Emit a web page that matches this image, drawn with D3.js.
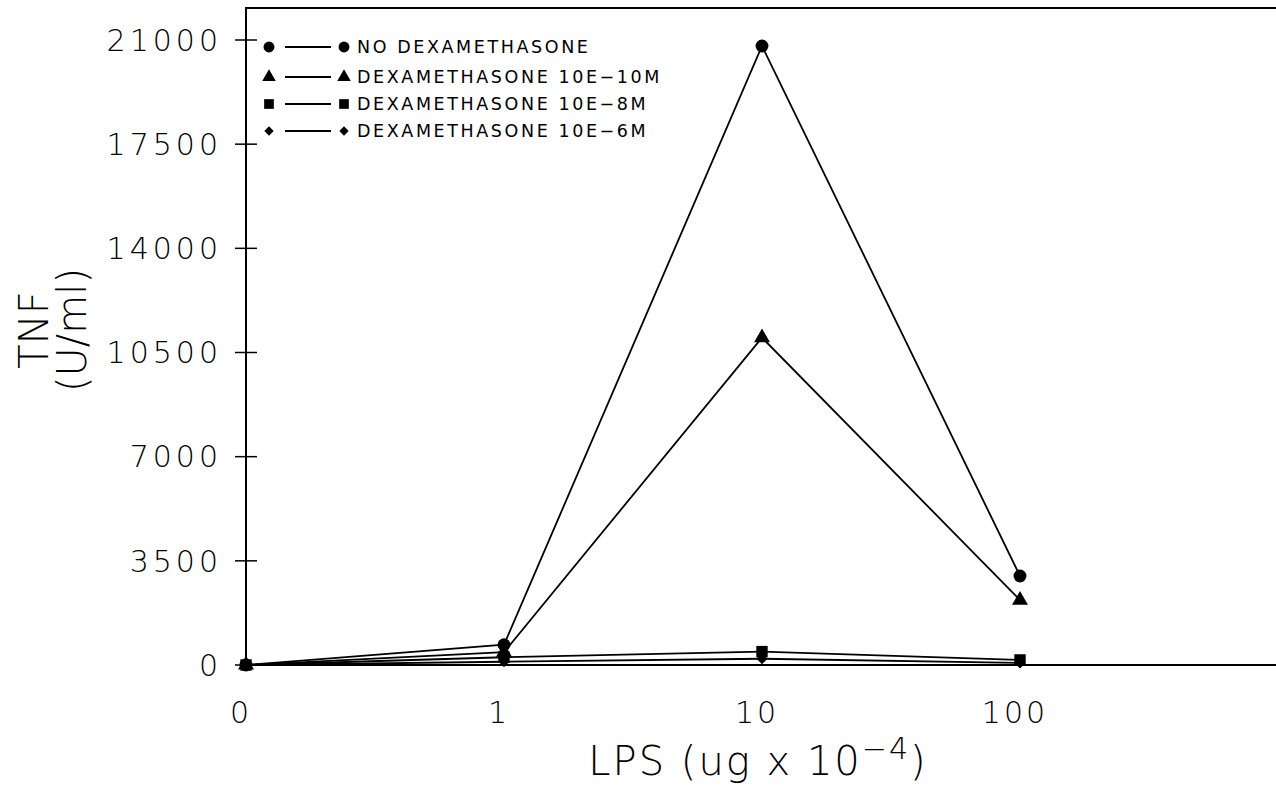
<!DOCTYPE html>
<html>
<head>
<meta charset="utf-8">
<script src="https://cdn.jsdelivr.net/npm/d3@7"></script>
<style>
  body { margin: 0; background: #fff; }
  svg { display: block; }
</style>
</head>
<body>
<script>
const width = 1276;
const height = 791;

// doses on the x axis (last slot is empty, axis runs on to it)
const doses = ["0", "1", "10", "100", ""];
const yTicks = [0, 3500, 7000, 10500, 14000, 17500, 21000];

const seriesNames = [
  "NO DEXAMETHASONE",
  "DEXAMETHASONE 10E\u221210M",
  "DEXAMETHASONE 10E\u22128M",
  "DEXAMETHASONE 10E\u22126M"
];
const symbols = ["circle", "triangle", "square", "diamond"];
const noDex = [0, 680, 20800, 2990];
const dex10 = [0, 430, 11000, 2180];
const dex8 = [0, 260, 450, 170];
const dex6 = [0, 110, 210, 70];
const allSeries = [noDex, dex10, dex8, dex6];

const margin = { left: 246, top: 8, bottom: 665 };

const x = d3.scalePoint().domain(doses).range([246, 1278]);
const y = d3.scaleLinear().domain([0, 21000]).range([665, 40]);

const svg = d3.select("body").append("svg")
  .attr("width", width)
  .attr("height", height)
  .style("font-family", "'DejaVu Sans', sans-serif");

// frame: top line, left axis, bottom axis
svg.append("path")
  .attr("d", `M${width},${margin.top}H${margin.left}V${margin.bottom}H${width}`)
  .attr("fill", "none")
  .attr("stroke", "#000")
  .attr("stroke-width", 2);

// y ticks cross the axis
const yAxis = svg.append("g");
yAxis.selectAll("line").data(yTicks).enter().append("line")
  .attr("x1", 235).attr("x2", 257)
  .attr("y1", d => y(d)).attr("y2", d => y(d))
  .attr("stroke", "#000").attr("stroke-width", 1.5);
yAxis.selectAll("text").data(yTicks).enter().append("text")
  .attr("x", 222)
  .attr("y", d => y(d))
  .attr("dy", "0.36em")
  .attr("text-anchor", "end")
  .style("font-size", "30px")
  .style("font-weight", 200)
  .style("letter-spacing", "4px")
  .text(d => d);

// x tick labels
svg.append("g").selectAll("text").data(doses.filter(d => d !== "")).enter().append("text")
  .attr("x", d => x(d) - 5)
  .attr("y", 712)
  .attr("dy", "0.36em")
  .attr("text-anchor", "middle")
  .style("font-size", "30px")
  .style("font-weight", 200)
  .style("letter-spacing", "3px")
  .text(d => d);

// axis titles
const xTitle = svg.append("text")
  .attr("x", 758).attr("y", 775)
  .attr("text-anchor", "middle")
  .style("font-size", "40px")
  .style("font-weight", 200)
  .style("letter-spacing", "2px");
xTitle.append("tspan").text("LPS (ug x 10");
xTitle.append("tspan").attr("dy", -16).style("font-size", "30px").text("\u22124");
xTitle.append("tspan").attr("dy", 16).text(")");

svg.append("text")
  .attr("transform", "translate(48,330) rotate(-90)")
  .attr("text-anchor", "middle")
  .style("font-size", "40px")
  .style("font-weight", 200)
  .text("TNF");
svg.append("text")
  .attr("transform", "translate(86,330) rotate(-90)")
  .attr("text-anchor", "middle")
  .style("font-size", "40px")
  .style("font-weight", 200)
  .text("(U/ml)");

function symbolPath(kind) {
  const t = {
    circle: d3.symbolCircle,
    triangle: d3.symbolTriangle,
    square: d3.symbolSquare,
    diamond: d3.symbolSquare
  }[kind];
  const size = { circle: 130, triangle: 110, square: 130, diamond: 60 }[kind];
  return d3.symbol().type(t).size(size)();
}
const rot = kind => (kind === "diamond" ? " rotate(45)" : "");

const line = d3.line()
  .x((d, i) => x(doses[i]))
  .y(d => y(d));

// lines, drawn bottom series first
allSeries.slice().reverse().forEach(vals => {
  svg.append("path")
    .datum(vals)
    .attr("d", line)
    .attr("fill", "none")
    .attr("stroke", "#000")
    .attr("stroke-width", 1.8);
});

allSeries.forEach((vals, s) => {
  svg.append("g").selectAll("path").data(vals).enter().append("path")
    .attr("d", symbolPath(symbols[s]))
    .attr("transform", (d, i) => `translate(${x(doses[i])},${y(d)})${rot(symbols[s])}`)
    .attr("fill", "#000");
});

// legend
const legend = svg.append("g");
const rowY = [47, 77, 104, 131];
seriesNames.forEach((name, i) => {
  const g = legend.append("g").attr("transform", `translate(0,${rowY[i]})`);
  g.append("path").attr("d", symbolPath(symbols[i])).attr("transform", `translate(269,0) scale(0.85)${rot(symbols[i])}`);
  g.append("line").attr("x1", 285).attr("x2", 331).attr("stroke", "#000").attr("stroke-width", 1.8);
  g.append("path").attr("d", symbolPath(symbols[i])).attr("transform", `translate(344,0) scale(0.85)${rot(symbols[i])}`);
  g.append("text")
    .attr("x", 357)
    .attr("dy", "0.36em")
    .style("font-size", "17.5px")
    .style("letter-spacing", "2.6px")
    .text(name);
});
</script>
</body>
</html>
